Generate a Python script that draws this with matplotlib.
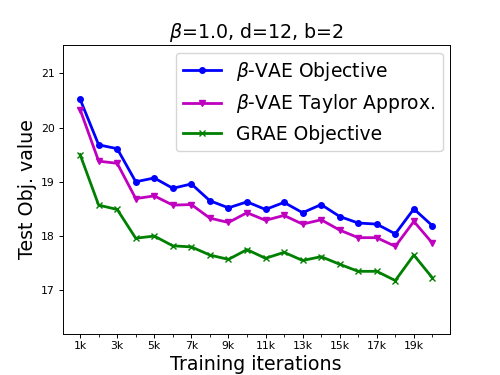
import matplotlib
matplotlib.use("Agg")
import matplotlib.pyplot as plt
import numpy as np

iterations = list(range(1, 21))
beta_vae = [20.52, 19.68, 19.61, 19.00, 19.07, 18.88, 18.96, 18.65, 18.52, 18.63,
            18.49, 18.62, 18.43, 18.58, 18.36, 18.24, 18.22, 18.04, 18.50, 18.19]
taylor = [20.33, 19.38, 19.34, 18.69, 18.74, 18.57, 18.58, 18.33, 18.25, 18.43,
          18.29, 18.38, 18.22, 18.30, 18.11, 17.97, 17.97, 17.81, 18.27, 17.87]
grae = [19.50, 18.57, 18.49, 17.96, 18.00, 17.82, 17.80, 17.65, 17.57, 17.75,
        17.59, 17.70, 17.55, 17.62, 17.48, 17.35, 17.35, 17.18, 17.65, 17.23]
major_ticks = list(range(1, 21, 2))
major_labels = [f"{t}k" for t in major_ticks]
yticks = [17, 18, 19, 20, 21]

fig, ax = plt.subplots(figsize=(5, 3.75), dpi=100)
ax.plot(iterations, beta_vae, color='b', marker='o', markersize=4, linewidth=2, label=r'$\beta$-VAE Objective')
ax.plot(iterations, taylor, color='m', marker='v', markersize=4, linewidth=2, label=r'$\beta$-VAE Taylor Approx.')
ax.plot(iterations, grae, color='g', marker='x', markersize=4, linewidth=2, label='GRAE Objective')

ax.set_xticks(major_ticks)
ax.set_xticklabels(major_labels, fontsize=7.8)
ax.set_xticks(iterations, minor=True)
ax.set_yticks(yticks)
ax.tick_params(axis='both', which='major', labelsize=7.8, length=2.7, pad=2.7, width=0.7)
ax.tick_params(axis='both', which='minor', length=2.0, width=0.6)
for s in ax.spines.values():
    s.set_linewidth(0.7)
ax.set_ylim(16.2, 21.52)
ax.set_xlim(0.05, 20.95)
ax.set_xlabel('Training iterations', fontsize=13.7, labelpad=2.5)
ax.set_ylabel('Test Obj. value', fontsize=13.7, labelpad=3)
ax.set_title(r'$\beta$=1.0, d=12, b=2', fontsize=13.7, pad=4.7)
ax.legend(loc='upper right', fontsize=13.5, borderaxespad=0.4)
fig.subplots_adjust(left=0.125, right=0.9, bottom=0.11, top=0.88)
fig.savefig('out.png', dpi=100)
